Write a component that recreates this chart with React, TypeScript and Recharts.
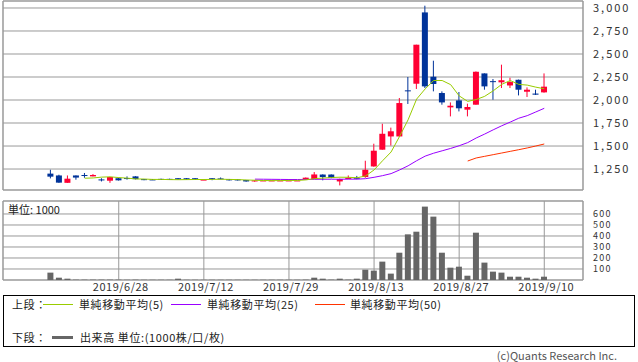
import React from "react";
import { ComposedChart, Bar, Line, XAxis, YAxis, CartesianGrid, ReferenceArea } from "recharts";

const dates = [
  "2019/6/18", "2019/6/19", "2019/6/20", "2019/6/21",
  "2019/6/24", "2019/6/25", "2019/6/26", "2019/6/27", "2019/6/28",
  "2019/7/1", "2019/7/2", "2019/7/3", "2019/7/4", "2019/7/5",
  "2019/7/8", "2019/7/9", "2019/7/10", "2019/7/11", "2019/7/12",
  "2019/7/16", "2019/7/17", "2019/7/18", "2019/7/19",
  "2019/7/22", "2019/7/23", "2019/7/24", "2019/7/25", "2019/7/26",
  "2019/7/29", "2019/7/30", "2019/7/31", "2019/8/1", "2019/8/2",
  "2019/8/5", "2019/8/6", "2019/8/7", "2019/8/8", "2019/8/9",
  "2019/8/13", "2019/8/14", "2019/8/15", "2019/8/16",
  "2019/8/19", "2019/8/20", "2019/8/21", "2019/8/22", "2019/8/23",
  "2019/8/26", "2019/8/27", "2019/8/28", "2019/8/29", "2019/8/30",
  "2019/9/2", "2019/9/3", "2019/9/4", "2019/9/5", "2019/9/6",
  "2019/9/9", "2019/9/10",
];

const opens = [
  1200, 1180, 1100, 1180, 1185, 1170, 1137, 1123, 1150, 1152,
  1170, 1140, 1137, 1143, 1143, 1150, 1150, 1150, 1132, 1150,
  1148, 1140, 1137, 1130, 1115, 1126, 1126, 1126, 1126, 1126,
  1135, 1141, 1190, 1190, 1115, 1141, 1155, 1163, 1278, 1460,
  1604, 1604, 2105, 2177, 2952, 2253, 2076, 1920, 1996, 1895,
  1949, 2289, 2205, 2192, 2158, 2220, 2090, 2070, 2083,
];
const highs = [
  1242, 1188, 1180, 1180, 1207, 1195, 1150, 1165, 1155, 1170,
  1172, 1142, 1140, 1145, 1145, 1152, 1152, 1152, 1136, 1152,
  1158, 1142, 1140, 1132, 1128, 1126, 1126, 1126, 1126, 1126,
  1158, 1217, 1192, 1192, 1145, 1180, 1175, 1340, 1525, 1742,
  1700, 2022, 2250, 2601, 3025, 2427, 2094, 1974, 2087, 1960,
  2310, 2289, 2228, 2384, 2242, 2222, 2137, 2112, 2289,
];
const lows = [
  1148, 1100, 1100, 1134, 1155, 1170, 1115, 1100, 1125, 1135,
  1137, 1128, 1130, 1133, 1133, 1135, 1135, 1133, 1130, 1128,
  1140, 1125, 1125, 1112, 1112, 1126, 1126, 1126, 1126, 1126,
  1134, 1141, 1127, 1150, 1072, 1140, 1140, 1155, 1275, 1460,
  1505, 1600, 1957, 2120, 2130, 2094, 1949, 1822, 1876, 1822,
  1949, 2112, 2003, 2130, 2130, 2050, 2033, 2055, 2080,
];
const closes = [
  1167, 1102, 1145, 1157, 1176, 1185, 1133, 1163, 1127, 1148,
  1140, 1130, 1135, 1135, 1135, 1137, 1137, 1135, 1135, 1140,
  1146, 1127, 1127, 1115, 1126, 1126, 1126, 1126, 1126, 1126,
  1156, 1191, 1163, 1152, 1141, 1155, 1145, 1242, 1449, 1633,
  1660, 1967, 2098, 2601, 2148, 2174, 1974, 1938, 1910, 1924,
  2307, 2148, 2195, 2215, 2195, 2112, 2112, 2058, 2145,
];
const volumes = [
  67, 21, 12, 3, 3, 3, 3, 3, 3, 2,
  3, 2, 2, 2, 2, 12, 2, 2, 2, 2,
  2, 2, 2, 2, 2, 2, 2, 2, 2, 2,
  3, 21, 12, 3, 12, 3, 12, 94, 85, 167,
  58, 248, 415, 439, 667, 576, 248, 112, 121, 39,
  430, 158, 76, 67, 30, 30, 21, 12, 30,
];
const ma5 = [
  null, null, null, null, 1150, 1153, 1162, 1165, 1157, 1151,
  1142, 1141, 1137, 1137, 1135, 1134, 1135, 1136, 1136, 1137,
  1139, 1137, 1135, 1131, 1128, 1125, 1124, 1124, 1126, 1126,
  1132, 1145, 1152, 1158, 1161, 1160, 1155, 1175, 1240, 1340,
  1435, 1605, 1785, 2010, 2120, 2212, 2212, 2167, 2045, 1985,
  2005, 2040, 2100, 2170, 2212, 2170, 2162, 2140, 2122,
];
const ma25 = [
  null, null, null, null, null, null, null, null, null, null,
  null, null, null, null, null, null, null, null, null, null,
  null, null, null, null, 1140, 1139, 1138, 1137, 1136, 1136,
  1137, 1138, 1139, 1139, 1139, 1140, 1140, 1145, 1160, 1178,
  1200, 1240, 1285, 1340, 1390, 1422, 1448, 1474, 1503, 1537,
  1587, 1630, 1676, 1720, 1760, 1802, 1830, 1870, 1910,
];
const ma50 = [
  null, null, null, null, null, null, null, null, null, null,
  null, null, null, null, null, null, null, null, null, null,
  null, null, null, null, null, null, null, null, null, null,
  null, null, null, null, null, null, null, null, null, null,
  null, null, null, null, null, null, null, null, null, 1337,
  1370, 1388, 1406, 1424, 1442, 1460, 1479, 1500, 1522,
];

const tickDates = ["2019/6/28", "2019/7/12", "2019/7/29", "2019/8/13", "2019/8/27", "2019/9/10"];
const priceTicks = [1250, 1500, 1750, 2000, 2250, 2500, 2750, 3000];
const volumeTicks = [100, 200, 300, 400, 500, 600];

const data = dates.map((d, i) => ({
  i,
  date: d,
  open: opens[i],
  high: highs[i],
  low: lows[i],
  close: closes[i],
  vol: volumes[i],
  ma5: ma5[i],
  ma25: ma25[i],
  ma50: ma50[i],
}));
const tickIdx = tickDates.map((d) => dates.indexOf(d));

const X_DOMAIN: [number, number] = [-5.6, 62.55];
const P_DOMAIN: [number, number] = [1022, 3076];
const V_DOMAIN: [number, number] = [0, 718];

const UP = "#ff0033";
const DOWN = "#003399";
const C5 = "#99cc00";
const C25 = "#9900ff";
const C50 = "#ff3300";
const GRID = "#999999";
const VOL = "#666666";
const FONT = "'Noto Sans CJK JP', 'Noto Sans', sans-serif";

const Candle = (props: any) => {
  const { x, y, width, height, payload } = props;
  if (!payload || payload.high == null) return null;
  const { open, close, high, low } = payload;
  const top = Math.min(y, y + height);
  const h = Math.abs(height);
  const span = high - low;
  const toY = (v: number) => (span === 0 ? top : top + ((high - v) / span) * h);
  const color = close >= open ? UP : DOWN;
  const cx = x + width / 2;
  const bTop = toY(Math.max(open, close));
  const bBot = toY(Math.min(open, close));
  return (
    <g>
      {h > 0 && <line x1={cx} x2={cx} y1={top} y2={top + h} stroke={color} strokeWidth={1} />}
      <rect x={x} y={bTop} width={width} height={Math.max(bBot - bTop, 1)} fill={color} />
    </g>
  );
};

const priceTickStyle = { fontSize: 11, fill: "#333", fontFamily: FONT, letterSpacing: 2 };
const volTickStyle = { fontSize: 9, fill: "#333", fontFamily: FONT, letterSpacing: 1.2 };
const dateTickStyle = { fontSize: 11, fill: "#333", fontFamily: FONT, letterSpacing: 0.5 };

const legendText: React.CSSProperties = { position: "absolute", whiteSpace: "nowrap", lineHeight: "14px", letterSpacing: 0.6 };

export default function App() {
  return (
    <div style={{ position: "absolute", left: 0, top: 0, width: 638, height: 362, background: "#fff", fontFamily: FONT, overflow: "hidden" }}>
      <div style={{ position: "absolute", left: 0, top: 0 }}>
        <ComposedChart width={638} height={191} data={data} margin={{ top: 1, right: 0, bottom: 1, left: 3 }}>
          <CartesianGrid stroke={GRID} strokeWidth={1} />
          <XAxis
            type="number"
            dataKey="i"
            domain={X_DOMAIN}
            ticks={tickIdx}
            interval={0}
            allowDataOverflow
            tick={false}
            axisLine={false}
            tickLine={false}
            height={0}
          />
          <YAxis
            orientation="right"
            type="number"
            domain={P_DOMAIN}
            ticks={priceTicks}
            interval={0}
            allowDataOverflow
            width={55}
            axisLine={false}
            tickLine={false}
            tickSize={6}
            tickMargin={4}
            tick={priceTickStyle}
            tickFormatter={(v: number) => v.toLocaleString("en-US")}
          />
          <ReferenceArea x1={X_DOMAIN[0]} x2={X_DOMAIN[1]} y1={P_DOMAIN[0]} y2={P_DOMAIN[1]} fill="none" stroke={GRID} strokeWidth={1} ifOverflow="visible" />
          <Bar dataKey={(d: any) => [d.low, d.high]} barSize={6} shape={Candle} isAnimationActive={false} />
          <Line dataKey="ma50" stroke={C50} strokeWidth={1} dot={false} isAnimationActive={false} type="linear" />
          <Line dataKey="ma25" stroke={C25} strokeWidth={1} dot={false} isAnimationActive={false} type="linear" />
          <Line dataKey="ma5" stroke={C5} strokeWidth={1} dot={false} isAnimationActive={false} type="linear" />
        </ComposedChart>
      </div>

      <div style={{ position: "absolute", left: 0, top: 195 }}>
        <ComposedChart width={638} height={101} data={data} margin={{ top: 6, right: 0, bottom: 0, left: 3 }}>
          <CartesianGrid stroke={GRID} strokeWidth={1} />
          <XAxis
            type="number"
            dataKey="i"
            domain={X_DOMAIN}
            ticks={tickIdx}
            interval={0}
            allowDataOverflow
            axisLine={false}
            tickLine={false}
            tickSize={1}
            tickMargin={2}
            height={16}
            tick={{ ...dateTickStyle, dx: 2 }}
            tickFormatter={(v: number) => dates[v]}
          />
          <YAxis
            orientation="right"
            type="number"
            domain={V_DOMAIN}
            ticks={volumeTicks}
            interval={0}
            allowDataOverflow
            width={55}
            axisLine={false}
            tickLine={false}
            tickSize={6}
            tickMargin={4}
            tick={volTickStyle}
          />
          <ReferenceArea x1={X_DOMAIN[0]} x2={X_DOMAIN[1]} y1={V_DOMAIN[0]} y2={V_DOMAIN[1]} fill="none" stroke={GRID} strokeWidth={1} ifOverflow="visible" />
          <Bar dataKey="vol" fill={VOL} barSize={6} isAnimationActive={false} />
        </ComposedChart>
      </div>

      <div style={{ position: "absolute", left: 8, top: 202, fontSize: 11, color: "#222", lineHeight: "14px" }}>単位: 1000</div>

      <div
        style={{
          position: "absolute",
          left: 3,
          top: 295,
          width: 632,
          height: 52,
          boxSizing: "border-box",
          border: "1px solid #000",
          fontSize: 11,
          color: "#222",
        }}
      >
        <div style={{ ...legendText, left: 8, top: 1 }}>上段：</div>
        <div style={{ position: "absolute", left: 39, top: 8, width: 30, height: 1, background: C5 }} />
        <div style={{ ...legendText, left: 75, top: 1 }}>単純移動平均(5)</div>
        <div style={{ position: "absolute", left: 167, top: 8, width: 30, height: 1, background: C25 }} />
        <div style={{ ...legendText, left: 203, top: 1 }}>単純移動平均(25)</div>
        <div style={{ position: "absolute", left: 311, top: 8, width: 30, height: 1, background: C50 }} />
        <div style={{ ...legendText, left: 346, top: 1 }}>単純移動平均(50)</div>

        <div style={{ ...legendText, left: 8, top: 34 }}>下段：</div>
        <div style={{ position: "absolute", left: 48, top: 40, width: 21, height: 3, background: VOL }} />
        <div style={{ ...legendText, left: 76, top: 34 }}>出来高 単位:(1000株/口/枚)</div>
      </div>

      <div style={{ position: "absolute", right: 21, top: 349, fontSize: 11, color: "#555", lineHeight: "13px", whiteSpace: "nowrap" }}>
        (c)Quants Research Inc.
      </div>
    </div>
  );
}
